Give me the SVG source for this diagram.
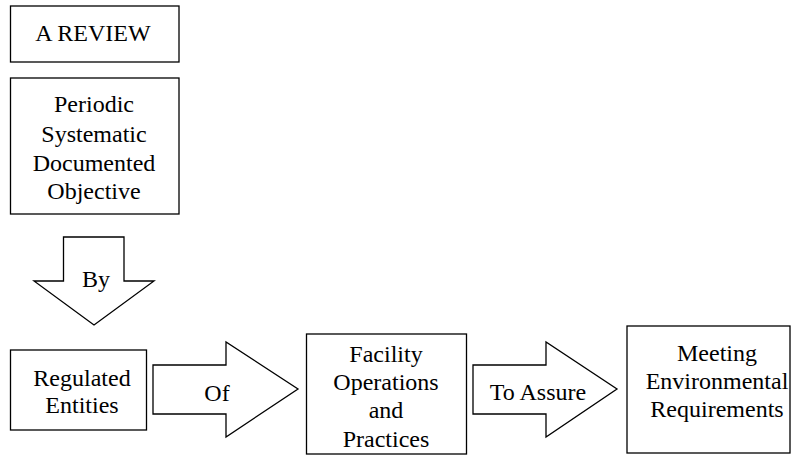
<svg xmlns="http://www.w3.org/2000/svg" width="793" height="455" viewBox="0 0 793 455">
<style>
.b{fill:#fff;stroke:#000;stroke-width:1.3}
text{font-family:"Liberation Serif","Times New Roman",serif;font-size:24px;fill:#000;text-anchor:middle}
</style>
<rect width="793" height="455" fill="#fff"/>
<g id="review"><rect class="b" x="10.5" y="6" width="168.5" height="56"/><text x="93" y="41">A REVIEW</text></g>
<g id="qualities"><rect class="b" x="10.5" y="78" width="168.5" height="136"/>
<text x="94" y="112">Periodic</text><text x="94" y="141.5">Systematic</text><text x="94" y="170.5">Documented</text><text x="94" y="198.5">Objective</text></g>
<g id="connectors">
<g id="by"><polygon class="b" points="63.5,237 124,237 124,281 154,281 94,325 34,281 63.5,281"/><text x="96" y="287">By</text></g>
<g id="of"><polygon class="b" points="153,365 226,365 226,342 298,389 226,437 226,414 153,414"/><text x="217" y="401">Of</text></g>
<g id="toassure"><polygon class="b" points="473,365 546,365 546,342 617,389 546,437 546,414 473,414"/><text x="538" y="400">To Assure</text></g>
</g>
<g id="entities"><rect class="b" x="10.5" y="350" width="136" height="80"/><text x="82" y="386">Regulated</text><text x="82" y="413">Entities</text></g>
<g id="facility"><rect class="b" x="306.5" y="334" width="160" height="120"/>
<text x="386" y="361.5">Facility</text><text x="386" y="390">Operations</text><text x="386" y="418">and</text><text x="386" y="446.5">Practices</text></g>
<g id="meeting"><rect class="b" x="627" y="326" width="163" height="127"/>
<text x="717" y="360.5">Meeting</text><text x="717" y="389">Environmental</text><text x="717" y="417">Requirements</text></g>
</svg>
